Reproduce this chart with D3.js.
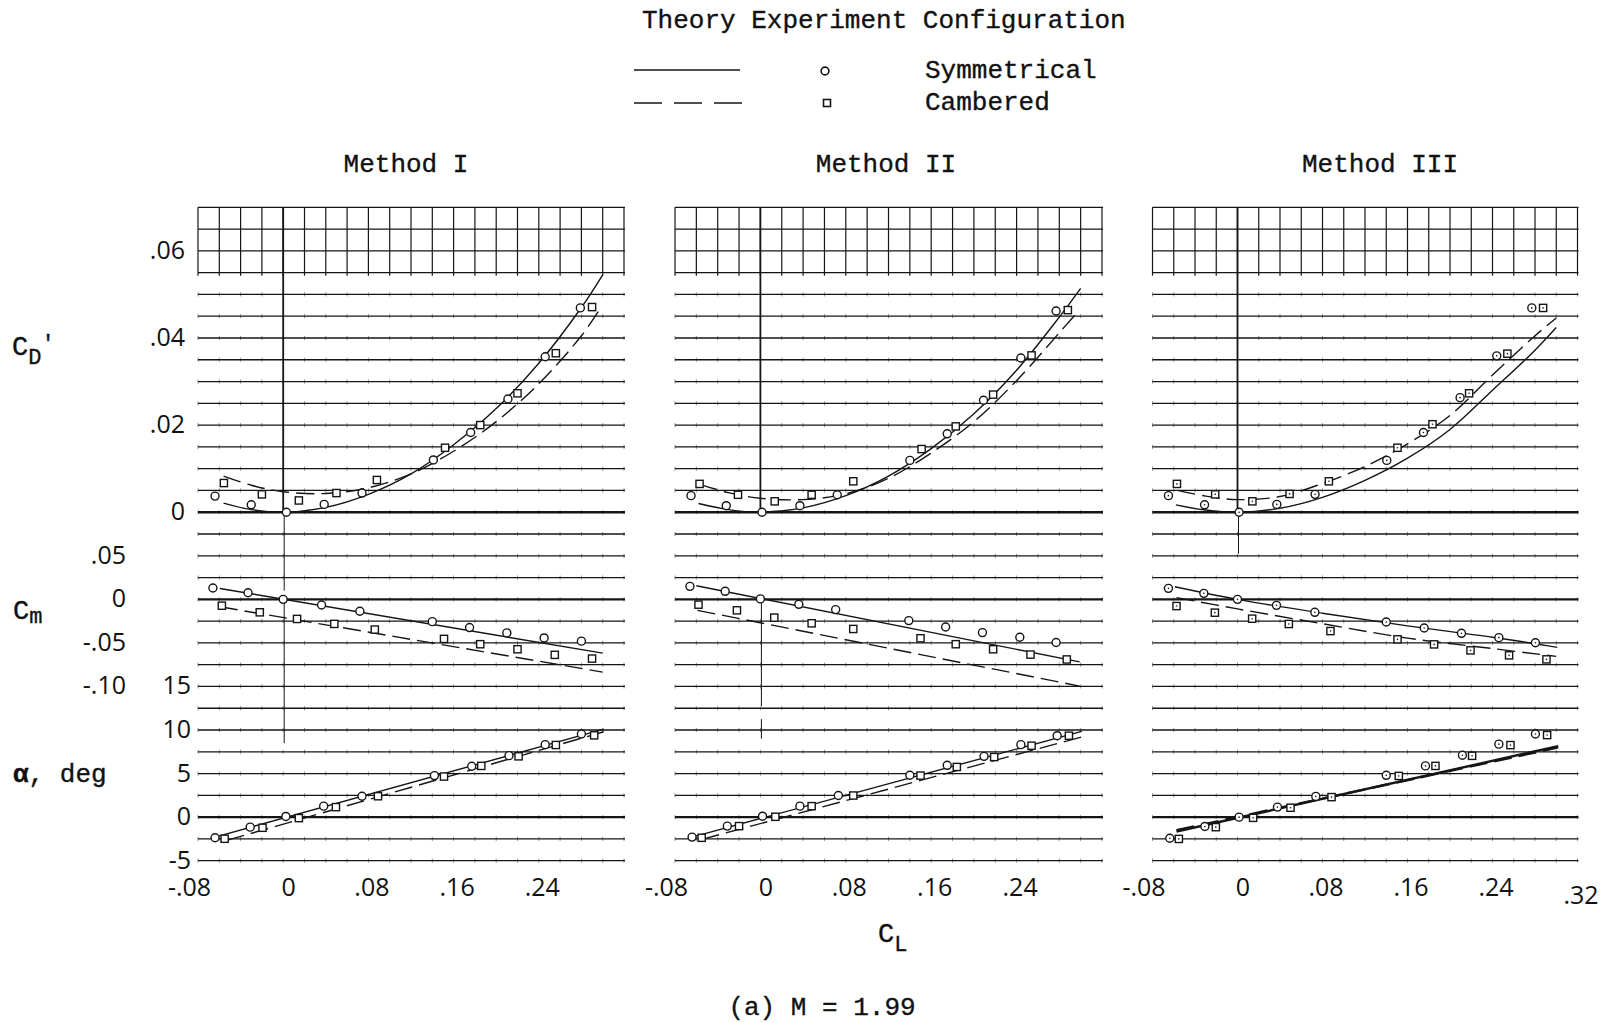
<!DOCTYPE html>
<html>
<head>
<meta charset="utf-8">
<script src="https://cdn.jsdelivr.net/npm/d3@7"></script>
<style>
  html, body { margin: 0; padding: 0; background: #fff; }
  svg { display: block; }
  .tw { font-family: "Liberation Mono", "DejaVu Sans Mono", monospace; fill: #111; stroke: #111; stroke-width: 0.35; }
  .num { font-family: "Open Sans", "DejaVu Sans", sans-serif; font-weight: 400; fill: #111; }
</style>
</head>
<body>
<svg id="chart" width="1611" height="1023"></svg>
<script>
// ---- tick values ----
const clTicks = [-0.08, 0, 0.08, 0.16, 0.24];
const clTickLabels = ["-.08", "0", ".08", ".16", ".24"];
const cdTicks = [0.06, 0.04, 0.02, 0];
const cdTickLabels = [".06", ".04", ".02", "0"];
const cmTicks = [0.05, 0, -0.05, -0.10];
const cmTickLabels = [".05", "0", "-.05", "-.10"];
const alphaTicks = [15, 10, 5, 0, -5];
const alphaTickLabels = ["15", "10", "5", "0", "-5"];

const methods = ["Method I", "Method II", "Method III"];

// ---- Method I: experiment [CL, value] ----
const m1SymCD = [[-0.064,0.0037],[-0.030,0.0017],[0.003,0],[0.0385,0.0018],[0.074,0.0044],[0.141,0.012],[0.176,0.0183],[0.211,0.026],[0.246,0.0357],[0.279,0.0469]];
const m1CamCD = [[-0.0557,0.0067],[-0.020,0.0041],[0.0147,0.0027],[0.050,0.0044],[0.088,0.0074],[0.152,0.0148],[0.185,0.020],[0.220,0.0273],[0.256,0.0365],[0.290,0.0471]];
const m1SymCm = [[-0.066,0.013],[-0.033,0.0076],[0,0],[0.036,-0.0065],[0.072,-0.0137],[0.140,-0.0256],[0.175,-0.0324],[0.210,-0.0385],[0.245,-0.0443],[0.280,-0.048]];
const m1CamCm = [[-0.0576,-0.0073],[-0.022,-0.0149],[0.013,-0.0225],[0.048,-0.0282],[0.086,-0.0347],[0.151,-0.0454],[0.185,-0.0515],[0.220,-0.0573],[0.255,-0.0637],[0.290,-0.068]];
const m1SymAlpha = [[-0.064,-2.37],[-0.031,-1.15],[0.0025,0.08],[0.038,1.26],[0.074,2.4],[0.142,4.77],[0.177,5.84],[0.212,7.06],[0.246,8.32],[0.280,9.54]];
const m1CamAlpha = [[-0.055,-2.48],[-0.0194,-1.22],[0.0147,-0.11],[0.0495,1.15],[0.089,2.4],[0.151,4.66],[0.186,5.88],[0.221,6.98],[0.256,8.28],[0.292,9.39]];
// ---- Method I: theory ----
const m1SymCDTheory = [[-0.056,0.0021],[-0.03,0.0006],[0,0],[0.04,0.0011],[0.08,0.0041],[0.12,0.0088],[0.16,0.0155],[0.20,0.0238],[0.24,0.0342],[0.28,0.0470],[0.30,0.0545]];
const m1CamCDTheory = [[-0.056,0.0083],[-0.03,0.0062],[0,0.0047],[0.04,0.0043],[0.08,0.0056],[0.12,0.0088],[0.16,0.0140],[0.20,0.0208],[0.24,0.0295],[0.28,0.0405],[0.297,0.0465]];
const m1SymCmTheory = [[-0.0595,0.0125],[0.30,-0.0618]];
const m1CamCmTheory = [[-0.0595,-0.0085],[0.30,-0.0835]];
const m1SymAlphaTheory = [[-0.064,-2.3],[0.301,10.1]];
const m1CamAlphaTheory = [[-0.053,-2.67],[0.301,9.8]];

// ---- Method II: experiment ----
const m2SymCD = [[-0.065,0.0038],[-0.032,0.0015],[0.0015,0],[0.037,0.0015],[0.072,0.004],[0.140,0.0119],[0.175,0.018],[0.209,0.0257],[0.244,0.0354],[0.277,0.0462]];
const m2CamCD = [[-0.057,0.0065],[-0.021,0.004],[0.0134,0.0025],[0.048,0.004],[0.087,0.0071],[0.151,0.0145],[0.183,0.0197],[0.218,0.027],[0.254,0.036],[0.288,0.0464]];
const m2SymCm = [[-0.066,0.0149],[-0.033,0.0092],[0,0.0005],[0.036,-0.0057],[0.0705,-0.0118],[0.139,-0.0244],[0.1735,-0.0317],[0.208,-0.0382],[0.243,-0.0435],[0.277,-0.0496]];
const m2CamCm = [[-0.058,-0.0061],[-0.022,-0.0126],[0.013,-0.021],[0.048,-0.0275],[0.087,-0.034],[0.150,-0.0447],[0.183,-0.0515],[0.218,-0.0573],[0.253,-0.0634],[0.287,-0.069]];
const m2SymAlpha = [[-0.064,-2.29],[-0.031,-1.03],[0.002,0.11],[0.037,1.26],[0.073,2.48],[0.140,4.81],[0.175,5.95],[0.2095,6.98],[0.244,8.32],[0.278,9.35]];
const m2CamAlpha = [[-0.055,-2.37],[-0.020,-1.03],[0.014,0.04],[0.048,1.26],[0.087,2.48],[0.150,4.77],[0.184,5.76],[0.219,6.9],[0.254,8.2],[0.289,9.35]];
// ---- Method II: theory ----
const m2SymCDTheory = [[-0.058,0.002],[-0.03,0.0006],[0,0],[0.04,0.001],[0.08,0.0038],[0.12,0.0083],[0.16,0.0146],[0.20,0.0226],[0.24,0.0326],[0.28,0.0448],[0.30,0.0514]];
const m2CamCDTheory = [[-0.057,0.0064],[-0.03,0.0045],[0,0.0032],[0.04,0.0029],[0.08,0.0042],[0.12,0.0078],[0.16,0.0136],[0.20,0.0208],[0.24,0.0302],[0.28,0.0412],[0.298,0.0462]];
const m2SymCmTheory = [[-0.06,0.0156],[0.299,-0.0718]];
const m2CamCmTheory = [[-0.059,-0.0126],[0.299,-0.0996]];
const m2SymAlphaTheory = [[-0.064,-2.29],[0.301,9.85]];
const m2CamAlphaTheory = [[-0.055,-2.56],[0.301,9.2]];

// ---- Method III: experiment ----
const m3SymCD = [[-0.065,0.0038],[-0.031,0.0017],[0.0015,0],[0.037,0.0018],[0.073,0.0041],[0.1405,0.0119],[0.175,0.0183],[0.2095,0.0263],[0.244,0.0359],[0.277,0.0469]];
const m3CamCD = [[-0.057,0.0065],[-0.021,0.0041],[0.014,0.0025],[0.049,0.0042],[0.086,0.0071],[0.1506,0.0148],[0.1835,0.0202],[0.218,0.0273],[0.254,0.0364],[0.2876,0.0469]];
const m3SymCm = [[-0.065,0.0126],[-0.0317,0.0069],[0,0],[0.0367,-0.0069],[0.0728,-0.0149],[0.140,-0.026],[0.1757,-0.0329],[0.2108,-0.039],[0.246,-0.044],[0.2804,-0.0498]];
const m3CamCm = [[-0.0574,-0.0077],[-0.0213,-0.0153],[0.0138,-0.0222],[0.0483,-0.0283],[0.0875,-0.0364],[0.1506,-0.0459],[0.185,-0.0517],[0.2193,-0.0586],[0.2556,-0.0643],[0.2908,-0.0689]];
const m3SymAlpha = [[-0.0637,-2.42],[-0.0307,-1.08],[0.0015,0],[0.0376,1.15],[0.0737,2.38],[0.140,4.8],[0.1769,5.88],[0.2117,7.1],[0.246,8.38],[0.2804,9.54]];
const m3CamAlpha = [[-0.0552,-2.5],[-0.0204,-1.15],[0.0147,-0.08],[0.0499,1.08],[0.0885,2.3],[0.1518,4.73],[0.1863,5.88],[0.2208,7.04],[0.2569,8.27],[0.2914,9.42]];
// ---- Method III: theory ----
const m3SymCDTheory = [[-0.058,0.0017],[-0.03,0.0005],[0,0],[0.04,0.0009],[0.08,0.0034],[0.12,0.0073],[0.16,0.0124],[0.20,0.019],[0.24,0.0280],[0.28,0.0372],[0.30,0.0424]];
const m3CamCDTheory = [[-0.0565,0.005],[-0.03,0.0037],[0,0.0029],[0.04,0.0036],[0.08,0.0066],[0.12,0.0105],[0.16,0.0157],[0.20,0.0222],[0.24,0.0315],[0.28,0.0405],[0.30,0.0446]];
const m3SymCmTheory = [[-0.059,0.0145],[0,0],[0.08,-0.016],[0.16,-0.0305],[0.24,-0.0435],[0.301,-0.0551]];
const m3CamCmTheory = [[-0.0574,0.002],[0,-0.011],[0.08,-0.028],[0.16,-0.0445],[0.24,-0.0565],[0.30,-0.0655]];
const m3SymAlphaTheory = [[-0.0574,-1.65],[0.3018,8.15]];
const m3CamAlphaTheory = [[-0.0574,-1.5],[0.3018,8.0]];

// ---- layout ----
const svg = d3.select("#chart");
const gridTop = 207.3, gridBottom = 860.7, nRows = 30, nCols = 20;
const rowH = (gridBottom - gridTop) / nRows;
const yRow = r => gridTop + r * rowH;
const ink = "#151515";

const panels = [
  { left: 198, right: 624, titleX: 406, zeroExt: [[14, 17.6], [18, 24.6]], dotted: false,
    sym: { cd: m1SymCD, cm: m1SymCm, a: m1SymAlpha }, cam: { cd: m1CamCD, cm: m1CamCm, a: m1CamAlpha },
    symT: { cd: m1SymCDTheory, cm: m1SymCmTheory, a: m1SymAlphaTheory }, camT: { cd: m1CamCDTheory, cm: m1CamCmTheory, a: m1CamAlphaTheory } },
  { left: 675, right: 1102, titleX: 886, zeroExt: [[18, 22.9], [23.5, 24.4]], dotted: false,
    sym: { cd: m2SymCD, cm: m2SymCm, a: m2SymAlpha }, cam: { cd: m2CamCD, cm: m2CamCm, a: m2CamAlpha },
    symT: { cd: m2SymCDTheory, cm: m2SymCmTheory, a: m2SymAlphaTheory }, camT: { cd: m2CamCDTheory, cm: m2CamCmTheory, a: m2CamAlphaTheory } },
  { left: 1152.5, right: 1577.5, titleX: 1380, zeroExt: [[14, 15.9]], dotted: true,
    sym: { cd: m3SymCD, cm: m3SymCm, a: m3SymAlpha }, cam: { cd: m3CamCD, cm: m3CamCm, a: m3CamAlpha },
    symT: { cd: m3SymCDTheory, cm: m3SymCmTheory, a: m3SymAlphaTheory }, camT: { cd: m3CamCDTheory, cm: m3CamCmTheory, a: m3CamAlphaTheory } }
];

// shared vertical scales (stacked on one sheet of graph paper)
const yCD = d3.scaleLinear().domain([0, 0.07]).range([yRow(14), yRow(0)]);
const yCm = d3.scaleLinear().domain([-0.10, 0.05]).range([yRow(22), yRow(16)]);
const yA  = d3.scaleLinear().domain([-5, 15]).range([yRow(30), yRow(22)]);

panels.forEach((p, pi) => {
  const x = d3.scaleLinear().domain([-0.08, 0.32]).range([p.left, p.right]);
  const colW = (p.right - p.left) / nCols;
  const g = svg.append("g");

  // graph paper: horizontal rules
  for (let r = 0; r <= nRows; r++) {
    const heavy = (r === 14 || r === 18 || r === 28);
    g.append("line")
      .attr("x1", p.left).attr("x2", p.right + 1)
      .attr("y1", yRow(r)).attr("y2", yRow(r))
      .attr("stroke", ink).attr("stroke-width", heavy ? 2.4 : 1.3);
  }
  // full vertical rules in the top block
  for (let c = 0; c <= nCols; c++) {
    const xc = p.left + c * colW;
    g.append("line")
      .attr("x1", xc).attr("x2", xc)
      .attr("y1", yRow(0)).attr("y2", yRow(3) + 3)
      .attr("stroke", ink).attr("stroke-width", 1.2);
    // short cross ticks on the remaining rules
    for (let r = 4; r <= nRows; r++) {
      g.append("line")
        .attr("x1", xc).attr("x2", xc)
        .attr("y1", yRow(r) - 2).attr("y2", yRow(r) + 2)
        .attr("stroke", ink).attr("stroke-width", 0.8).attr("opacity", 0.6);
    }
  }
  // CL = 0 reference line
  const x0 = x(0);
  g.append("line").attr("x1", x0).attr("x2", x0)
    .attr("y1", yRow(0)).attr("y2", yRow(14))
    .attr("stroke", ink).attr("stroke-width", 1.8);
  p.zeroExt.forEach(([a, b]) => {
    g.append("line").attr("x1", x0 + 1).attr("x2", x0 + 1)
      .attr("y1", yRow(a)).attr("y2", yRow(b))
      .attr("stroke", ink).attr("stroke-width", 1.0);
  });

  // title
  svg.append("text").attr("class", "tw")
    .attr("x", p.titleX).attr("y", 172)
    .attr("text-anchor", "middle").attr("font-size", 26)
    .text(methods[pi]);

  // CL axis labels
  const xAxis = d3.axisBottom(x).tickValues(pi === 2 ? clTicks.concat([0.32]) : clTicks)
    .tickSize(0).tickPadding(0)
    .tickFormat((d, i) => i < clTickLabels.length ? clTickLabels[i] : ".32");
  const xa = svg.append("g").attr("transform", `translate(0,${gridBottom + 15})`).call(xAxis);
  xa.select(".domain").remove();
  xa.selectAll("text").attr("class", "num").attr("font-size", 25)
    .attr("fill", ink)
    .attr("dx", d => d < 0 ? -9 : (d === 0 ? 5 : 3))
    .attr("dy", d => d > 0.3 ? "1.15em" : "0.8em");

  // theory curves
  const lineFor = (sc, curve) => d3.line().x(d => x(d[0])).y(d => sc(d[1])).curve(curve);
  const sets = [["cd", yCD, d3.curveCatmullRom], ["cm", yCm, d3.curveCatmullRom], ["a", yA, d3.curveLinear]];
  sets.forEach(([k, sc, cv]) => {
    const thick = (pi === 2 && k === "a") ? 2.4 : 1.4;
    g.append("path").attr("d", lineFor(sc, cv)(p.symT[k]))
      .attr("fill", "none").attr("stroke", ink).attr("stroke-width", thick);
    g.append("path").attr("d", lineFor(sc, cv)(p.camT[k]))
      .attr("fill", "none").attr("stroke", ink).attr("stroke-width", thick)
      .attr("stroke-dasharray", "18,7");
  });

  // experimental points
  sets.forEach(([k, sc]) => {
    p.sym[k].forEach(d => {
      g.append("circle").attr("cx", x(d[0])).attr("cy", sc(d[1])).attr("r", 4)
        .attr("fill", "#fff").attr("stroke", ink).attr("stroke-width", 1.4);
      if (p.dotted) g.append("circle").attr("cx", x(d[0])).attr("cy", sc(d[1])).attr("r", 0.8).attr("fill", ink);
    });
    p.cam[k].forEach(d => {
      g.append("rect").attr("x", x(d[0]) - 3.6).attr("y", sc(d[1]) - 3.6)
        .attr("width", 7.2).attr("height", 7.2)
        .attr("fill", "#fff").attr("stroke", ink).attr("stroke-width", 1.4);
      if (p.dotted) g.append("circle").attr("cx", x(d[0])).attr("cy", sc(d[1])).attr("r", 0.8).attr("fill", ink);
    });
  });
});

// vertical axis labels (left of Method I)
function leftAxis(scale, ticks, labels, xPos) {
  const ax = d3.axisLeft(scale).tickValues(ticks).tickSize(0).tickPadding(0)
    .tickFormat((d, i) => labels[i]);
  const ga = svg.append("g").attr("transform", `translate(${xPos},0)`).call(ax);
  ga.select(".domain").remove();
  ga.selectAll("text").attr("class", "num").attr("font-size", 25).attr("fill", ink)
    .attr("dy", "0.3em");
}
leftAxis(yCD, cdTicks, cdTickLabels, 185);
leftAxis(yCm, cmTicks, cmTickLabels, 126);
leftAxis(yA, alphaTicks, alphaTickLabels, 191);

// quantity symbols
const cdLab = svg.append("text").attr("class", "tw").attr("x", 12).attr("y", 355).attr("font-size", 27);
cdLab.append("tspan").text("C");
cdLab.append("tspan").attr("font-size", 22).attr("dy", 9).text("D");
cdLab.append("tspan").attr("dy", -14).attr("font-size", 22).text("'");
const cmLab = svg.append("text").attr("class", "tw").attr("x", 13).attr("y", 619).attr("font-size", 27);
cmLab.append("tspan").text("C");
cmLab.append("tspan").attr("font-size", 22).attr("dy", 4).text("m");
svg.append("text").attr("class", "tw").attr("x", 13).attr("y", 782).attr("font-size", 26)
  .attr("font-weight", "bold").text("α")
  .append("tspan").attr("font-weight", "normal").text(", deg");
const clLab = svg.append("text").attr("class", "tw").attr("x", 878).attr("y", 942).attr("font-size", 27);
clLab.append("tspan").text("C");
clLab.append("tspan").attr("font-size", 22).attr("dy", 9).text("L");

// caption
svg.append("text").attr("class", "tw").attr("x", 822).attr("y", 1015)
  .attr("text-anchor", "middle").attr("font-size", 26).text("(a) M = 1.99");

// legend
const leg = svg.append("g");
leg.append("text").attr("class", "tw").attr("x", 642).attr("y", 28).attr("font-size", 26)
  .text("Theory Experiment Configuration");
leg.append("line").attr("x1", 634).attr("x2", 740).attr("y1", 70).attr("y2", 70)
  .attr("stroke", ink).attr("stroke-width", 1.6);
leg.append("line").attr("x1", 634).attr("x2", 742).attr("y1", 103).attr("y2", 103)
  .attr("stroke", ink).attr("stroke-width", 1.6).attr("stroke-dasharray", "28,12");
leg.append("circle").attr("cx", 825).attr("cy", 71).attr("r", 3.9)
  .attr("fill", "#fff").attr("stroke", ink).attr("stroke-width", 1.6);
leg.append("rect").attr("x", 823.5).attr("y", 99.5).attr("width", 7).attr("height", 7)
  .attr("fill", "#fff").attr("stroke", ink).attr("stroke-width", 1.6);
leg.append("text").attr("class", "tw").attr("x", 925).attr("y", 78).attr("font-size", 26).text("Symmetrical");
leg.append("text").attr("class", "tw").attr("x", 925).attr("y", 110).attr("font-size", 26).text("Cambered");
</script>
</body>
</html>
